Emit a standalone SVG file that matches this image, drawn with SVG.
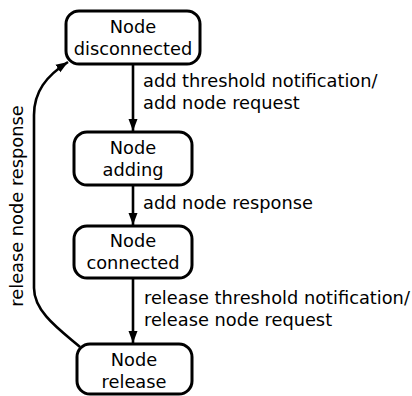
<svg xmlns="http://www.w3.org/2000/svg" width="412" height="396" viewBox="0 0 412 396">
<style>
.box{fill:#fff;stroke:#000;stroke-width:3}
.t{font-family:"DejaVu Sans",sans-serif;font-size:17.8px;fill:#000}
.c{text-anchor:middle}
.e{fill:none;stroke:#000;stroke-width:2.6}
</style>
<defs>
<marker id="ah" viewBox="0 0 12 10" refX="12" refY="5" markerWidth="12" markerHeight="10" markerUnits="userSpaceOnUse" orient="auto">
<path d="M0,0.5 L12,5 L0,9.5 Z" fill="#000"/>
</marker>
</defs>
<rect width="412" height="396" fill="#fff"/>
<g id="edges">
<path class="e" d="M133,64 L133,131" marker-end="url(#ah)"/>
<path class="e" d="M133,185 L133,225" marker-end="url(#ah)"/>
<path class="e" d="M133,278 L133,343" marker-end="url(#ah)"/>
<path class="e" d="M80,347 C60,330 34,312 34,288 L34,115 C34,92 46,76 68,62" marker-end="url(#ah)"/>
<text class="t" x="143" y="87">add threshold notification/</text>
<text class="t" x="143" y="109">add node request</text>
<text class="t" x="143" y="209">add node response</text>
<text class="t" x="144" y="304">release threshold notification/</text>
<text class="t" x="144" y="326">release node request</text>
<text class="t c" transform="translate(22.7,206) rotate(-90)">release node response</text>
</g>
<g id="n1">
<rect class="box" x="66" y="11" width="134" height="53" rx="13"/>
<text class="t c" x="133" y="33">Node</text>
<text class="t c" x="133" y="55">disconnected</text>
</g>
<g id="n2">
<rect class="box" x="74" y="132" width="118" height="53" rx="13"/>
<text class="t c" x="133" y="154">Node</text>
<text class="t c" x="133" y="176">adding</text>
</g>
<g id="n3">
<rect class="box" x="74" y="226" width="118" height="52" rx="13"/>
<text class="t c" x="133" y="247">Node</text>
<text class="t c" x="133" y="269">connected</text>
</g>
<g id="n4">
<rect class="box" x="77" y="344" width="115" height="50" rx="13"/>
<text class="t c" x="134" y="366">Node</text>
<text class="t c" x="134" y="388">release</text>
</g>
</svg>
